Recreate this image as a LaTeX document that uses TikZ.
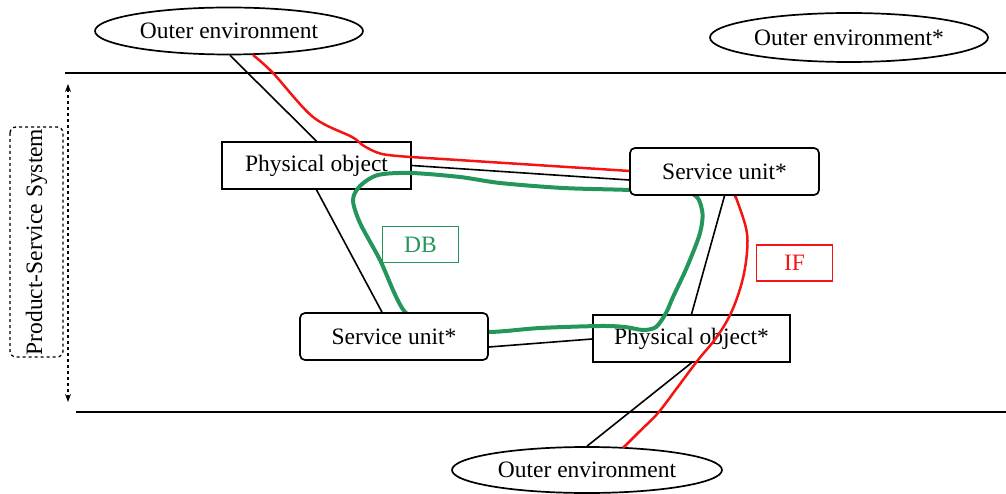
\documentclass[tikz,border=0pt]{standalone}
\usepackage{fontspec}
\setmainfont{Liberation Serif}
\usetikzlibrary{shapes.geometric,arrows.meta,calc}
\definecolor{dbgreen}{RGB}{36,150,92}
\definecolor{ifred}{RGB}{245,20,20}
\begin{document}
\begin{tikzpicture}[x=1pt,y=-1pt,
  lbl/.style={font=\fontsize{23.5}{27}\selectfont, inner sep=0pt},
  env/.style={lbl, ellipse, draw, line width=1.7pt, minimum width=#1, minimum height=47pt},
  obj/.style={lbl, draw, line width=1.7pt, minimum height=47pt, minimum width=#1},
  unit/.style={obj=#1, rounded corners=5pt, fill=white},
  tag/.style={lbl, draw, line width=1.6pt, minimum height=36pt, minimum width=76pt},
  link/.style={line width=1.6pt},
  band/.style={line width=2pt},
  ifpath/.style={ifred, line width=2.5pt, line join=round},
  dbpath/.style={dbgreen, line width=4pt, line join=round}
]
\useasboundingbox (0,0) rectangle (1006,494);

% system band
\coordinate (t1) at (65,73);  \coordinate (t2) at (1006,73);
\coordinate (b1) at (76,412); \coordinate (b2) at (1006,412);
\draw[band] (t1) -- (t2);
\draw[band] (b1) -- (b2);
\coordinate (a1) at (68,84); \coordinate (a2) at (68,402);
\draw[line width=1.3pt, dashed, {Stealth[length=8pt,width=6pt]}-{Stealth[length=8pt,width=6pt]}] (a1) -- (a2);
\node[lbl, draw, dashed, line width=1.3pt, rounded corners=6pt, rotate=90,
      minimum width=230pt, minimum height=53pt] (pss) at (36.5,242) {Product-Service System};

% environments
\node[env=268pt] (ell1) at (229,31) {Outer environment};
\node[env=278pt, minimum height=49pt] (ell2) at (849,37.5) {Outer environment*};
\node[env=270pt, minimum height=46pt] (ell3) at (587,470) {Outer environment};

% physical objects (not filled)
\node[obj=189pt] (po1) at (316.5,165.5) {Physical object};
\node[obj=197pt] (po2) at (691.5,338.5) {Physical object*};

% labels
\node[tag, draw=dbgreen, text=dbgreen] (db) at (420.5,244.5) {DB};
\node[tag, draw=ifred, text=ifred] (if) at (794.5,263) {IF};

% IF path (red)
\draw[ifpath] plot[smooth, tension=0.55] coordinates {(253,55) (273,73) (313,117) (352,137) (364,146) (382,154) (411,157)} -- (630,171);
\draw[ifpath] (630,171) .. controls (690,175) and (730,182) .. (736,198);
\draw[ifpath] plot[smooth, tension=0.6] coordinates {(735,195) (746,228) (747,252) (742,282) (731,313) (716,338) (698,360) (677,388) (658,413) (640,431) (623,448)};

% DB loop (green)
\draw[dbpath] plot[smooth cycle, tension=0.5] coordinates {
  (563,188) (630,190) (690,193) (702,210) (700,233) (687,267) (673,297) (666,313)
  (656,327) (643,330) (625,327) (600,326) (540,328) (488,332) (440,328) (405,312)
  (380,260) (360,223) (353,200) (360,186) (378,175) (411,173) (460,177) (500,183)};

% service units (filled, above curves)
\node[unit=189pt] (su1) at (724.5,171.5) {Service unit*};
\node[unit=188pt] (su2) at (394,336.5) {Service unit*};

% black connectors
\draw[link] ([xshift=1pt]ell1.south) -- (po1.north);
\draw[link] (po1.east) -- ([yshift=-8.5pt]su1.west);
\draw[link] (po1.south) -- ([xshift=-12pt]su2.north);
\draw[link] ([yshift=-10.5pt]su2.east) -- ([yshift=-0.5pt]po2.west);
\draw[link] (su1.south) -- (po2.north);
\draw[link] (po2.south) -- (ell3.north);
\end{tikzpicture}
\end{document}
